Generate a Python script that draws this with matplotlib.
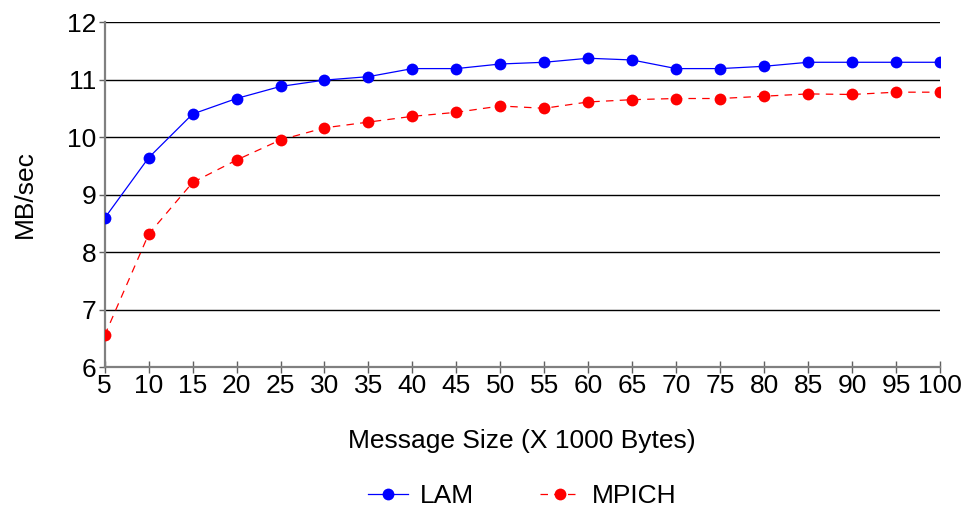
import matplotlib
matplotlib.use("Agg")
import matplotlib.pyplot as plt

# Throughput per message size
sizes = [5, 10, 15, 20, 25, 30, 35, 40, 45, 50, 55, 60, 65, 70, 75, 80, 85, 90, 95, 100]
lam = [8.59, 9.64, 10.40, 10.67, 10.88, 10.99, 11.05, 11.19, 11.19, 11.27,
       11.30, 11.37, 11.34, 11.19, 11.19, 11.23, 11.30, 11.30, 11.30, 11.30]
mpich = [6.55, 8.31, 9.21, 9.60, 9.95, 10.16, 10.26, 10.36, 10.43, 10.54,
         10.50, 10.61, 10.65, 10.67, 10.67, 10.71, 10.75, 10.74, 10.78, 10.78]
y_ticks = [6, 7, 8, 9, 10, 11, 12]

plt.rcParams['font.family'] = ['Liberation Sans', 'DejaVu Sans']
FS = 19

fig = plt.figure(figsize=(9.69, 5.12), dpi=100)
ax = fig.add_axes([0.108, 0.283, 0.862, 0.674])

ax.plot(sizes, lam, color='#0000ff', lw=0.9, marker='o', ms=8.5,
        markeredgewidth=0, label='LAM', zorder=3)
ax.plot(sizes, mpich, color='#ff0000', lw=0.9, ls=(0, (6, 5)), marker='o', ms=8.5,
        markeredgewidth=0, label='MPICH', zorder=3)

ax.set_xlim(5, 100)
ax.set_ylim(6, 12)
ax.set_xticks(sizes)
ax.set_yticks(y_ticks)
ax.yaxis.grid(True, color='black', lw=1.0)
ax.set_axisbelow(True)

for side in ('top', 'right'):
    ax.spines[side].set_visible(False)
for side in ('left', 'bottom'):
    ax.spines[side].set_color('#808080')
    ax.spines[side].set_linewidth(1.6)

ax.tick_params(axis='x', direction='inout', length=8, width=1, color='#606060',
               labelsize=FS, pad=1)
ax.tick_params(axis='y', direction='out', length=4, width=1, color='#606060',
               labelsize=FS, pad=2)

ax.set_xlabel('Message Size (X 1000 Bytes)', fontsize=FS, labelpad=22)
ax.set_ylabel('MB/sec', fontsize=FS, labelpad=22)

fig.legend(loc='center', bbox_to_anchor=(0.539, 0.031), ncol=2, frameon=False,
           fontsize=FS, handlelength=1.5, columnspacing=2.5, handletextpad=0.45)

fig.savefig('out.png', dpi=100)
